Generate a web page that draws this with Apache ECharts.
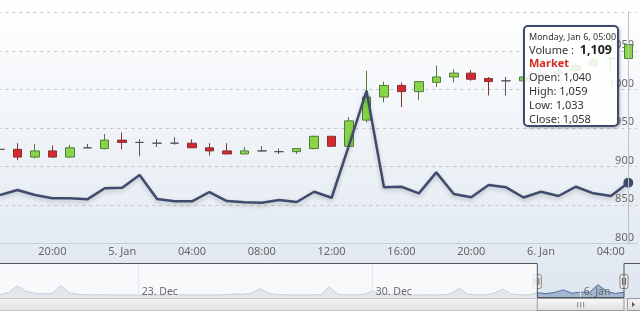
<!DOCTYPE html>
<html><head><meta charset="utf-8">
<script src="https://cdn.jsdelivr.net/npm/echarts@6/dist/echarts.min.js"></script>
<style>html,body{margin:0;padding:0;background:#fff}#c{width:640px;height:311px}</style>
</head><body><div id="c"></div>
<script>
// ---- data ----
const hours = ['17:00','18:00','19:00','20:00','21:00','22:00','23:00','5. Jan','01:00','02:00','03:00','04:00','05:00','06:00','07:00','08:00','09:00','10:00','11:00','12:00','13:00','14:00','15:00','16:00','17:00','18:00','19:00','20:00','21:00','22:00','23:00','6. Jan','01:00','02:00','03:00','04:00','05:00'];
const startTime = Date.UTC(2014, 0, 4, 17); // first category
const opens  = [922,922,912,920,912,924,923,934,931,930,930,930,924,920,916,920,919,919,923,939,926,960,990,1005,997,1009,1016,1021,1014,1011,1011,1016,1020,1025,1031,1040,1040];
const closes = [922,912,920,912,924,924,934,931,931,930,930,924,920,916,920,920,919,923,939,926,959,990,1005,997,1010,1016,1021,1013,1010,1011,1016,1020,1023,1031,1038,1040,1058];
const lows   = [921,908,910,911,911,924,922,922,913,925,928,924,914,916,916,919,916,916,922,926,926,957,983,977,986,1003,1009,1011,992,992,1009,1012,1015,1022,1029,1024,1033];
const highs  = [923,930,929,927,928,929,942,944,935,935,938,935,930,930,925,926,923,923,940,939,964,1024,1010,1009,1010,1031,1026,1025,1016,1016,1018,1024,1027,1034,1040,1041,1059];
const volume = [884,975,884,824,824,805,1007,1017,1250,811,769,769,939,774,750,743,792,756,944,834,1799,2793,1025,1036,915,1299,902,842,1067,1025,838,944,866,1036,915,866,1109];
const yTicks = [800, 1100, 50];
const navVolume = [900,1500,3300,1800,1300,1100,1200,3400,1400,1000,
  900,850,900,820,850,800,820,850,800,820,
  1000,850,820,800,850,800,900,1100,1000,1300,
  2500,1200,950,850,820,800,850,900,3000,1000,
  850,820,1000,1900,1000,900,850,820,800,850,
  820,850,1100,2700,1000,850,820,1300,2400,1100,
  850,820,1400,1200,1500,2200,1300,1600,1500,3600,
  1800,1200,1600];
const navTickIndex = [16, 43, 67];
const navTickText = ['23. Dec', '30. Dec', '6. Jan'];
const navSelStart = 62;
const hoverIndex = 36;

// ---- build ----
const candleData = opens.map((o, i) => [o, closes[i], lows[i], highs[i]]);
const navCats = navVolume.map((v, i) => { const k = navTickIndex.indexOf(i); return k >= 0 ? navTickText[k] : ''; });
const navLast = navVolume.length - 1;
const fmt = n => n.toLocaleString('en-US');
const days = ['Sunday','Monday','Tuesday','Wednesday','Thursday','Friday','Saturday'];
const mons = ['Jan','Feb','Mar','Apr','May','Jun','Jul','Aug','Sep','Oct','Nov','Dec'];
function header(i) {
  const d = new Date(startTime + i * 3600000);
  const hh = String(d.getUTCHours()).padStart(2, '0');
  return days[d.getUTCDay()] + ', ' + mons[d.getUTCMonth()] + ' ' + d.getUTCDate() + ', ' + hh + ':00';
}
const FONT = 'Noto Sans';
const chart = echarts.init(document.getElementById('c'), null, {renderer: 'canvas'});
const option = {
  animation: false,
  backgroundColor: {type: 'linear', x: 0, y: 0, x2: 0, y2: 1, colorStops: [
    {offset: 0, color: '#ffffff'}, {offset: 0.8, color: '#e3eaf2'}, {offset: 1, color: '#dde5ee'}]},
  textStyle: {fontFamily: FONT},
  grid: [
    {left: -8.7, right: 3, top: 12.3, bottom: 67.7, outerBoundsMode: 'none', containLabel: false},
    {left: 0, right: 16, top: 263, height: 35, outerBoundsMode: 'none', containLabel: false}
  ],
  xAxis: [
    {type: 'category', gridIndex: 0, data: hours, boundaryGap: true,
     axisLine: {lineStyle: {color: '#c4ceda'}},
     axisTick: {alignWithLabel: true, length: 4, interval: i => i % 4 === 3, lineStyle: {color: '#c4ceda'}},
     axisLabel: {interval: i => i % 4 === 3, color: '#666', fontSize: 11, margin: 3, fontFamily: FONT},
     splitLine: {show: false}},
    {type: 'category', gridIndex: 1, data: navCats, boundaryGap: false, z: 5,
     axisLine: {show: false}, axisTick: {show: false},
     axisLabel: {inside: true, interval: i => navTickIndex.includes(i), color: '#6a6a6a', fontSize: 10.5,
       align: 'left', margin: 0, padding: [0, 0, 0, 3], fontFamily: FONT},
     splitLine: {show: true, interval: i => navTickIndex.includes(i), lineStyle: {color: '#e2e6ec'}}}
  ],
  yAxis: [
    {type: 'value', gridIndex: 0, position: 'right', min: yTicks[0], max: yTicks[1], interval: yTicks[2],
     axisLine: {show: false}, axisTick: {show: false},
     axisLabel: {inside: true, margin: 3, verticalAlign: 'bottom', color: '#666', fontSize: 11, fontFamily: FONT,
       formatter: v => v === yTicks[1] ? '' : String(v)},
     splitLine: {lineStyle: {color: '#c4c4c4', type: [3, 4]}}},
    {type: 'value', gridIndex: 0, min: 0, max: 4230, show: false, splitLine: {show: false}},
    {type: 'value', gridIndex: 1, min: 0, max: 9500, show: false, splitLine: {show: false}}
  ],
  visualMap: {show: false, type: 'piecewise', seriesIndex: 2, dimension: 0,
    pieces: [{gte: 0, lt: navSelStart, color: '#c8ced9'}, {gte: navSelStart, lte: navLast, color: '#4a6fa3'}]},
  tooltip: {
    trigger: 'axis', triggerOn: 'none', alwaysShowContent: true, position: [523, 25],
    axisPointer: {type: 'line', lineStyle: {color: '#c0c0c0', width: 1, type: 'solid'}, label: {show: false}},
    backgroundColor: 'rgba(255,255,255,0.86)', borderColor: '#3f4b6d', borderWidth: 2,
    padding: [4, 4, 0, 4],
    extraCssText: 'box-sizing:border-box;width:96px;height:102px;border-radius:5px;box-shadow:1px 1px 3px rgba(0,0,0,0.3);',
    textStyle: {fontFamily: FONT, color: '#333'},
    formatter: function (params) {
      const p = Array.isArray(params) ? params[0] : params;
      const i = p.dataIndex;
      return '<div style="font-family:Noto Sans;white-space:nowrap;color:#333">' +
        '<div style="font-size:9px;line-height:12px">' + header(i) + '</div>' +
        '<div style="font-size:11px;line-height:13px">Volume : <b style="font-size:12.5px;color:#222;margin-left:3px">' + fmt(volume[i]) + '</b></div>' +
        '<div style="font-size:11px;line-height:13.5px;color:#d4281f;font-weight:bold">Market</div>' +
        '<div style="font-size:11px;line-height:14px">Open: ' + fmt(opens[i]) + '</div>' +
        '<div style="font-size:11px;line-height:14px">High: ' + fmt(highs[i]) + '</div>' +
        '<div style="font-size:11px;line-height:14px">Low: ' + fmt(lows[i]) + '</div>' +
        '<div style="font-size:11px;line-height:14px">Close: ' + fmt(closes[i]) + '</div></div>';
    }
  },
  series: [
    {name: 'Market', type: 'candlestick', xAxisIndex: 0, yAxisIndex: 0, data: candleData, barWidth: 9,
     itemStyle: {color: '#86d648', color0: '#d6282d', borderColor: '#557a3c', borderColor0: '#833232',
       borderColorDoji: '#555', borderWidth: 1},
     emphasis: {disabled: true}},
    {name: 'Volume', type: 'line', xAxisIndex: 0, yAxisIndex: 1, data: volume,
     showSymbol: true, symbol: 'circle', symbolSize: (v, p) => p.dataIndex === hoverIndex ? 9 : 0,
     itemStyle: {color: '#3f4b6d'},
     lineStyle: {color: '#3f4b6d', width: 2.5, shadowColor: 'rgba(0,0,0,0.22)', shadowBlur: 4, shadowOffsetY: 2},
     emphasis: {disabled: true}, z: 3},
    {name: 'nav', type: 'line', xAxisIndex: 1, yAxisIndex: 2, data: navVolume, symbol: 'none',
     lineStyle: {width: 1}, areaStyle: {opacity: 0.4}, silent: true, tooltip: {show: false},
     markArea: {silent: true, itemStyle: {color: 'rgba(255,255,255,0.75)'}, data: [[{xAxis: 0}, {xAxis: navSelStart}]]}}
  ]
};
chart.setOption(option);

// navigator decorations positioned from the nav axis
let xSel = chart.convertToPixel({xAxisIndex: 1}, navSelStart);
let xEnd = chart.convertToPixel({xAxisIndex: 1}, navLast);
if (!isFinite(xSel)) xSel = 537; if (!isFinite(xEnd)) xEnd = 624;
const navTop = 263.5, navBot = 297.5, sbTop = 298.5, sbH = 12;
function handle(x) {
  return {type: 'group', z: 13, children: [
    {type: 'rect', shape: {x: x - 4, y: 274.5, width: 8, height: 14, r: 2}, style: {fill: '#ebebeb', stroke: '#888', lineWidth: 1}},
    {type: 'line', shape: {x1: x - 1.5, y1: 278, x2: x - 1.5, y2: 285}, style: {stroke: '#666', lineWidth: 1}},
    {type: 'line', shape: {x1: x + 1.5, y1: 278, x2: x + 1.5, y2: 285}, style: {stroke: '#666', lineWidth: 1}}
  ]};
}
const gx = (xSel + xEnd) / 2;
chart.setOption({graphic: [
  {type: 'rect', z: 10, shape: {x: -1, y: sbTop, width: 642, height: sbH}, style: {
    fill: {type: 'linear', x: 0, y: 0, x2: 0, y2: 1, colorStops: [{offset: 0, color: '#f4f4f4'}, {offset: 1, color: '#e2e2e2'}]},
    stroke: '#c8c8c8', lineWidth: 1}},
  {type: 'rect', z: 11, shape: {x: xSel, y: sbTop, width: xEnd - xSel, height: sbH}, style: {
    fill: {type: 'linear', x: 0, y: 0, x2: 0, y2: 1, colorStops: [{offset: 0, color: '#fbfbfb'}, {offset: 1, color: '#dedede'}]},
    stroke: '#9a9a9a', lineWidth: 1}},
  {type: 'line', z: 12, shape: {x1: gx - 3, y1: 302, x2: gx - 3, y2: 307.5}, style: {stroke: '#888'}},
  {type: 'line', z: 12, shape: {x1: gx, y1: 302, x2: gx, y2: 307.5}, style: {stroke: '#888'}},
  {type: 'line', z: 12, shape: {x1: gx + 3, y1: 302, x2: gx + 3, y2: 307.5}, style: {stroke: '#888'}},
  {type: 'rect', z: 11, shape: {x: 627.5, y: sbTop, width: 13, height: sbH}, style: {
    fill: {type: 'linear', x: 0, y: 0, x2: 0, y2: 1, colorStops: [{offset: 0, color: '#f8f8f8'}, {offset: 1, color: '#dcdcdc'}]},
    stroke: '#9a9a9a', lineWidth: 1}},
  {type: 'polygon', z: 12, shape: {points: [[632, 302], [632, 307], [635, 304.5]]}, style: {fill: '#555'}},
  {type: 'polyline', z: 12, shape: {points: [[-1, navTop], [xSel, navTop], [xSel, navBot], [xEnd, navBot], [xEnd, navTop], [641, navTop]]},
    style: {stroke: '#555', lineWidth: 1, fill: null}},
  handle(xSel),
  handle(xEnd)
]});
chart.dispatchAction({type: 'showTip', seriesIndex: 0, dataIndex: hoverIndex});
</script></body></html>
